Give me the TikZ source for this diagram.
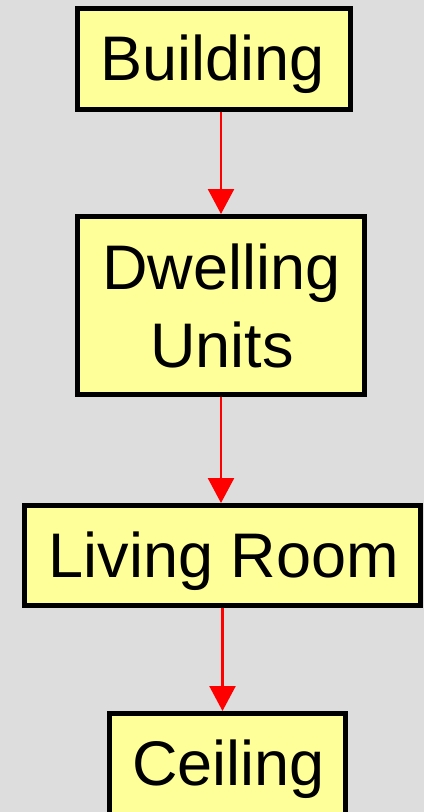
\documentclass[tikz,border=0pt]{standalone}
\usepackage{fontspec}
\setmainfont{Liberation Sans}
\usetikzlibrary{arrows.meta}
\definecolor{bgc}{RGB}{221,221,221}
\definecolor{boxfill}{RGB}{255,255,153}
\tikzset{
  box/.style={draw=black, line width=5pt, fill=boxfill, inner sep=0pt},
  lbl/.style={anchor=base, inner sep=0pt, font=\fontsize{63}{63}\selectfont},
  arr/.style={draw=red, line width=2.4pt, -{Triangle[width=26pt,length=25pt]}}
}
\begin{document}
\begin{tikzpicture}[x=1pt,y=-1pt]
\useasboundingbox (0,0) rectangle (424,812);
\clip (0,0) rectangle (424,812);
\fill[bgc] (0,0) rectangle (424,812);
\node[box, minimum width=273pt, minimum height=101pt] (b) at (214,59) {};
\node[box, minimum width=287pt, minimum height=178pt] (d) at (221,305.5) {};
\node[box, minimum width=396pt, minimum height=100pt] (l) at (222.5,555.5) {};
\node[box, minimum width=236pt, minimum height=120pt] (c) at (227.5,773.5) {};
\node[lbl] (tb) at (213,80) {Building};
\node[lbl] (td1) at (221.5,289) {Dwelling};
\node[lbl] (td2) at (222,367) {Units};
\node[lbl] (tl) at (224,577) {Living Room};
\node[lbl] (tc) at (228.5,785) {Ceiling};
\draw[arr] (b.south -| d.north) -- (d.north);
\draw[arr] (d.south) -- (d.south |- l.north);
\draw[arr] (l.south) -- (l.south |- c.north);
\end{tikzpicture}
\end{document}
